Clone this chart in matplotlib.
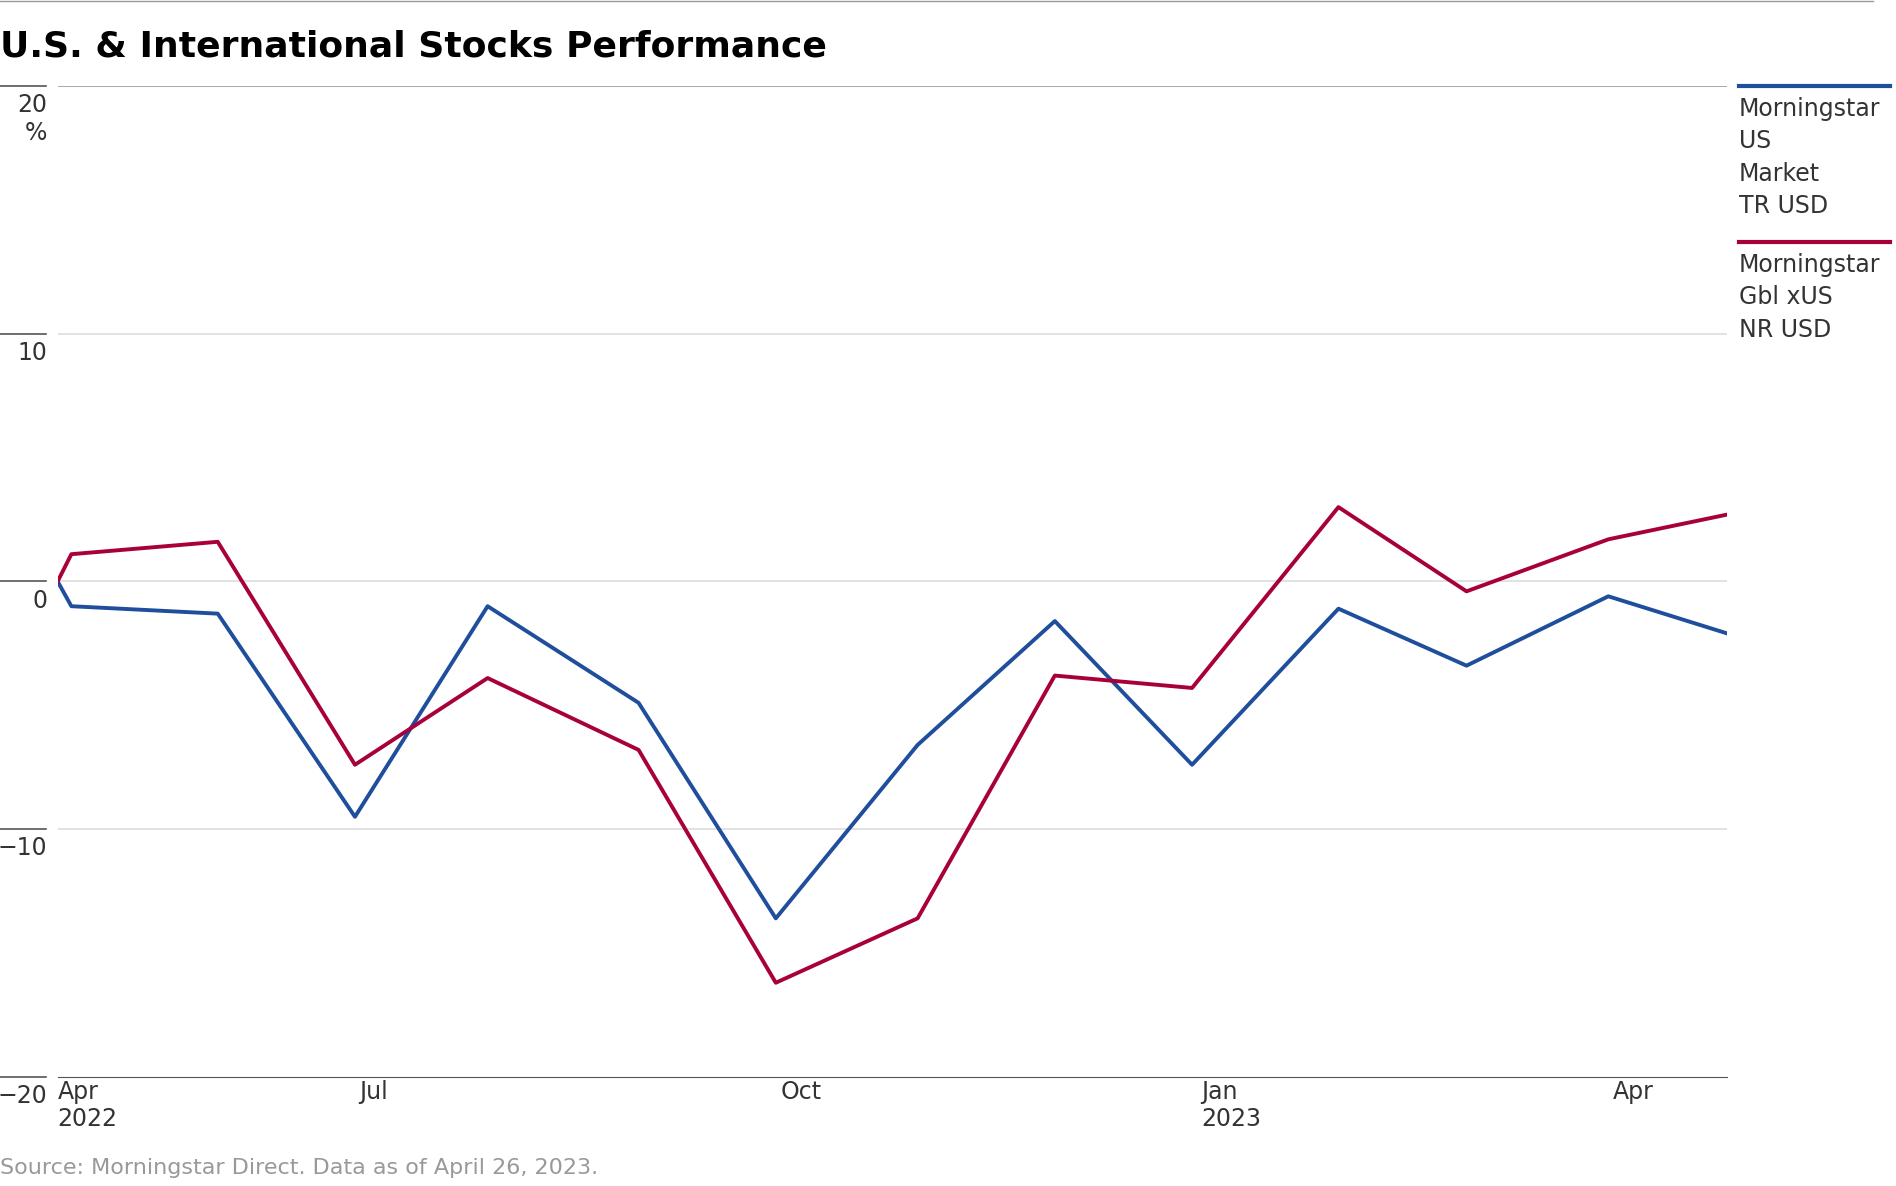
import datetime as dt
import matplotlib.pyplot as plt
import matplotlib.dates as mdates
from matplotlib import font_manager

fams = {f.name for f in font_manager.fontManager.ttflist}
plt.rcParams["font.family"] = "Liberation Sans Narrow" if "Liberation Sans Narrow" in fams else "DejaVu Sans"

dates = ["2022-04-26", "2022-04-29", "2022-05-31", "2022-06-30", "2022-07-29", "2022-08-31",
         "2022-09-30", "2022-10-31", "2022-11-30", "2022-12-30", "2023-01-31", "2023-02-28",
         "2023-03-31", "2023-04-26"]
us_market = [0, -1.0, -1.3, -9.5, -1.0, -4.9, -13.6, -6.6, -1.6, -7.4, -1.1, -3.4, -0.6, -2.1]
gbl_xus = [0, 1.1, 1.6, -7.4, -3.9, -6.8, -16.2, -13.6, -3.8, -4.3, 3.0, -0.4, 1.7, 2.7]
series_names = ["Morningstar\nUS\nMarket\nTR USD", "Morningstar\nGbl xUS\nNR USD"]
colors = ["#1f4e9c", "#a8003b"]

x = [dt.datetime.strptime(d, "%Y-%m-%d") for d in dates]

fig = plt.figure(figsize=(18.96, 11.86), dpi=100)
ax = fig.add_axes([0.0304, 0.092, 0.8806, 0.8355])
ax.plot(x, us_market, color=colors[0], lw=2.8)
ax.plot(x, gbl_xus, color=colors[1], lw=2.8)
ax.set_xlim(x[0], x[-1])
ax.set_ylim(-20, 20)
for s in ["left", "right", "top"]:
    ax.spines[s].set_visible(False)
ax.spines["bottom"].set_color("#555555")
ax.set_yticks([])
for v in [20, 10, 0, -10]:
    ax.axhline(v, color="#999999" if v == 20 else "#dddddd", lw=1.2, zorder=0)

# y labels to the left of the axes
for v in [20, 10, 0, -10, -20]:
    yf = 0.092 + (v + 20) / 40 * 0.8355
    fig.add_artist(plt.Line2D([0, 0.024], [yf, yf], color="#555555", lw=1.2))
    lab = "20\n%" if v == 20 else str(v).replace("-", "\u2212")
    fig.text(0.025, yf - 0.006, lab, ha="right", va="top", fontsize=17, color="#333333")

ticks = [dt.datetime(2022, 7, 1), dt.datetime(2022, 10, 1), dt.datetime(2023, 1, 1), dt.datetime(2023, 4, 1)]
ax.set_xticks([x[0]] + ticks)
ax.set_xticklabels(["Apr\n2022", "Jul", "Oct", "Jan\n2023", "Apr"], fontsize=17, color="#333333", ha="left")
ax.tick_params(axis="x", length=0, pad=2)

# legend on the right
ly = [0.9275, 0.796]
for name, c, y in zip(series_names, colors, ly):
    fig.add_artist(plt.Line2D([0.917, 0.997], [y, y], color=c, lw=3))
    fig.text(0.917, y - 0.009, name, ha="left", va="top", fontsize=17, color="#333333", linespacing=1.45)

fig.add_artist(plt.Line2D([0, 0.988], [0.999, 0.999], color="#999999", lw=1))
fig.text(0.0, 0.975, "U.S. & International Stocks Performance", fontsize=26, fontweight="bold", va="top")
fig.text(0.0, 0.01, "Source: Morningstar Direct. Data as of April 26, 2023.", fontsize=16, color="#999999")

fig.savefig("out.png", dpi=100)
